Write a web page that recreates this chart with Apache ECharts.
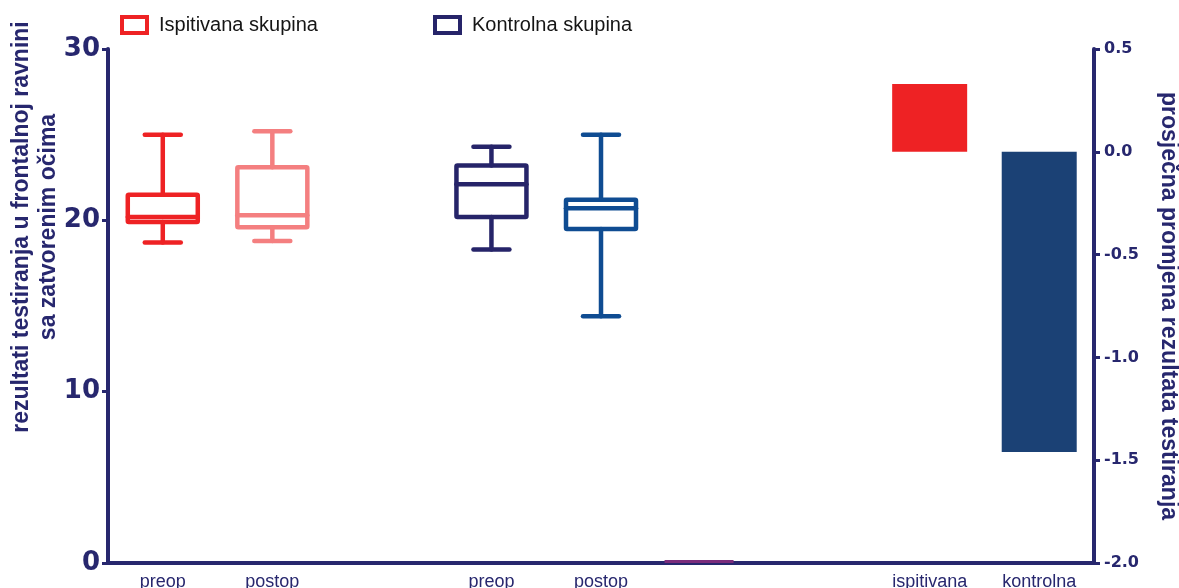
<!DOCTYPE html>
<html>
<head>
<meta charset="utf-8">
<script src="https://cdn.jsdelivr.net/npm/echarts@6/dist/echarts.min.js"></script>
<style>
  html, body { margin: 0; padding: 0; background: #fff; }
  #chart { width: 1179px; height: 588px; }
</style>
</head>
<body>
<div id="chart"></div>
<script>
// categories on the x axis (empty slots are gaps)
const categories = ['preop', 'postop', '', 'preop', 'postop', '', '', 'ispitivana', 'kontrolna']

// box plots: [category index, min, Q1, median, Q3, max]
const ispitivanaBoxes = [
  [0, 18.7, 19.9, 20.2, 21.5, 25.0],
  [1, 18.8, 19.6, 20.3, 23.1, 25.2]
]
const ispitivanaColors = ['#ee2224', '#f47f80']
const kontrolnaBoxes = [
  [3, 18.3, 20.2, 22.1, 23.2, 24.3],
  [4, 14.4, 19.5, 20.7, 21.2, 25.0]
]
const kontrolnaColors = ['#262469', '#0f4c92']

// mean change (right axis)
const changeValues = [null, null, null, null, null, null, null, 0.33, -1.46]
const changeColors = ['#ee2224', '#1b4175']

// the thin line on the baseline: [category index, value]
const baselineMark = [[5, 0]]

const axisColor = '#27276e'
const font = 'Liberation Sans, Arial, sans-serif'
const tickFont = 'DejaVu Sans, sans-serif'

function boxRenderer (colors) {
  return function (params, api) {
    const c = colors[params.dataIndex]
    const x = api.value(0)
    const pLow = api.coord([x, api.value(1)])
    const pQ1 = api.coord([x, api.value(2)])
    const pMed = api.coord([x, api.value(3)])
    const pQ3 = api.coord([x, api.value(4)])
    const pHigh = api.coord([x, api.value(5)])
    const cx = pLow[0]
    const hw = 35
    const cw = 18
    const style = { stroke: c, lineWidth: 4.5, fill: null, lineCap: 'round', lineJoin: 'round' }
    return {
      type: 'group',
      children: [
        { type: 'rect', shape: { x: cx - hw, y: pQ3[1], width: hw * 2, height: pQ1[1] - pQ3[1], r: 1 }, style: style },
        { type: 'line', shape: { x1: cx - hw, y1: pMed[1], x2: cx + hw, y2: pMed[1] }, style: style },
        { type: 'line', shape: { x1: cx, y1: pQ3[1], x2: cx, y2: pHigh[1] }, style: style },
        { type: 'line', shape: { x1: cx, y1: pQ1[1], x2: cx, y2: pLow[1] }, style: style },
        { type: 'line', shape: { x1: cx - cw, y1: pHigh[1], x2: cx + cw, y2: pHigh[1] }, style: style },
        { type: 'line', shape: { x1: cx - cw, y1: pLow[1], x2: cx + cw, y2: pLow[1] }, style: style }
      ]
    }
  }
}

let myChart = echarts.init(document.getElementById('chart'))
myChart.setOption({
  animation: false,
  textStyle: { fontFamily: font },
  grid: { left: 108, right: 85, top: 49, bottom: 25, outerBoundsMode: 'none', containLabel: false },
  legend: [
    {
      left: 115, top: 10,
      icon: 'rect', itemWidth: 25, itemHeight: 16,
      textStyle: { fontSize: 20, color: '#151515', fontFamily: font, padding: [0, 0, 0, 7] },
      data: [{ name: 'Ispitivana skupina', itemStyle: { color: '#fff', borderColor: '#ee2224', borderWidth: 4 } }]
    },
    {
      left: 428, top: 10,
      icon: 'rect', itemWidth: 25, itemHeight: 16,
      textStyle: { fontSize: 20, color: '#151515', fontFamily: font, padding: [0, 0, 0, 7] },
      data: [{ name: 'Kontrolna skupina', itemStyle: { color: '#fff', borderColor: '#262469', borderWidth: 4 } }]
    }
  ],
  xAxis: {
    type: 'category',
    data: categories,
    axisLine: { lineStyle: { color: axisColor, width: 4 } },
    axisTick: { show: false },
    axisLabel: { color: axisColor, fontSize: 18, margin: 10, interval: 0 }
  },
  yAxis: [
    {
      type: 'value',
      min: 0, max: 30, interval: 10,
      position: 'left',
      name: 'rezultati testiranja u frontalnoj ravnini\nsa zatvorenim očima',
      nameLocation: 'middle',
      nameGap: 46,
      nameMoveOverlap: false,
      nameTextStyle: { color: axisColor, fontSize: 23, fontWeight: 'bold', lineHeight: 27, padding: [0, 0, 0, 158] },
      splitLine: { show: false },
      axisLine: { show: true, lineStyle: { color: axisColor, width: 4 } },
      axisTick: { show: true, length: 6, lineStyle: { width: 3 } },
      axisLabel: { color: axisColor, fontSize: 26, fontWeight: 'bold', fontFamily: tickFont, margin: 8 }
    },
    {
      type: 'value',
      min: -2, max: 0.5, interval: 0.5,
      position: 'right',
      name: 'prosječna promjena rezultata testiranja',
      nameLocation: 'middle',
      nameGap: 63,
      nameRotate: -90,
      nameTextStyle: { color: axisColor, fontSize: 23, fontWeight: 'bold' },
      splitLine: { show: false },
      axisLine: { show: true, lineStyle: { color: axisColor, width: 4 } },
      axisTick: { show: true, length: 6, lineStyle: { width: 3 } },
      axisLabel: {
        color: axisColor, fontSize: 16, fontWeight: 'bold', fontFamily: tickFont, margin: 10,
        formatter: function (v) { return v.toFixed(1) }
      }
    }
  ],
  series: [
    {
      name: 'Ispitivana skupina',
      type: 'custom',
      itemStyle: { color: '#ee2224' },
      renderItem: boxRenderer(ispitivanaColors),
      encode: { x: 0, y: [1, 2, 3, 4, 5] },
      data: ispitivanaBoxes,
      z: 3
    },
    {
      name: 'Kontrolna skupina',
      type: 'custom',
      itemStyle: { color: '#262469' },
      renderItem: boxRenderer(kontrolnaColors),
      encode: { x: 0, y: [1, 2, 3, 4, 5] },
      data: kontrolnaBoxes,
      z: 3
    },
    {
      name: 'promjena',
      type: 'bar',
      yAxisIndex: 1,
      barWidth: 75,
      data: changeValues.map(function (v, i) {
        if (v === null) return null
        return { value: v, itemStyle: { color: v > 0 ? changeColors[0] : changeColors[1] } }
      })
    },
    {
      name: 'baseline',
      type: 'custom',
      yAxisIndex: 0,
      z: 5,
      encode: { x: 0, y: 1 },
      data: baselineMark,
      renderItem: function (params, api) {
        const p = api.coord([api.value(0), api.value(1)])
        return {
          type: 'rect',
          shape: { x: p[0] - 46, y: p[1] - 3, width: 69, height: 3 },
          style: { fill: '#7b2c7c' }
        }
      }
    }
  ]
})
</script>
</body>
</html>
